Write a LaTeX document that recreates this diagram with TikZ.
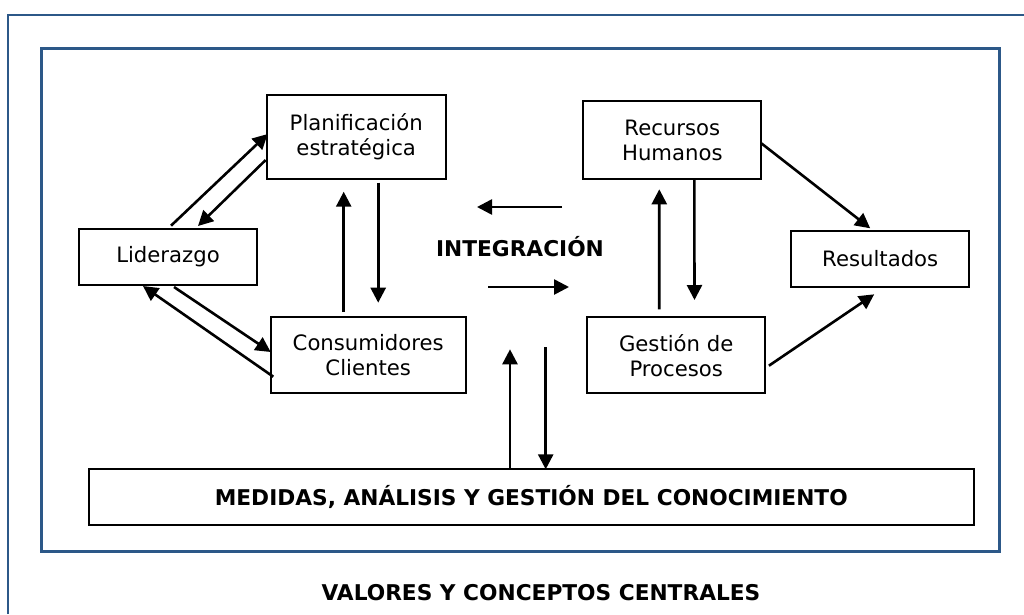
\documentclass[tikz,border=0pt]{standalone}
\usepackage{fontspec}
\setmainfont{DejaVu Sans}
\usetikzlibrary{arrows.meta,calc}
\definecolor{frameblue}{RGB}{44,88,136}
\tikzset{
  box/.style={draw=black, line width=1.8pt, inner sep=0pt, outer sep=0pt, align=center,
    font=\fontsize{21.2}{25}\selectfont},
  boldtxt/.style={inner sep=0pt, font=\fontsize{21.7}{25}\selectfont\bfseries},
  arr/.style={line width=2.6pt, -{Triangle[length=15pt,width=15pt]}},
  frame/.style={draw=frameblue, line width=3pt},
}
\begin{document}
\begin{tikzpicture}[x=1pt,y=-1pt]
\useasboundingbox (0,0) rectangle (1024,614);
% frames
\draw[frame, line width=2.5pt] (8,614) -- (8,15) -- (1025,15);
\draw[frame] (41,48) rectangle (999,551.7);
% boxes
\node[box, minimum width=179pt, minimum height=84pt] (plan) at (356.2,137) {Planificación\\estratégica};
\node[box, minimum width=178pt, minimum height=56pt] (lid) at (168,257) {Liderazgo};
\node[box, minimum width=195pt, minimum height=76pt] (cons) at (368.2,355) {Consumidores\\Clientes};
\node[box, minimum width=178pt, minimum height=78pt] (rec) at (672.3,140) {Recursos\\Humanos};
\node[box, minimum width=178pt, minimum height=56pt] (res) at (880.2,259) {Resultados};
\node[box, minimum width=178pt, minimum height=76pt] (gest) at (676.2,355.3) {Gestión de\\Procesos};
\node[box, minimum width=884.7pt, minimum height=56pt] (med) at (531.3,497.3) {};
\node[boldtxt] (medt) at (531.3,497.3) {MEDIDAS, ANÁLISIS Y GESTIÓN DEL CONOCIMIENTO};
\node[boldtxt] (integ) at (520,247) {INTEGRACIÓN};
\node[boldtxt] (val) at (541,593) {VALORES Y CONCEPTOS CENTRALES};
% arrows left cluster
\draw[arr] ([shift={(3,-3.3)}]lid.north) -- ([shift={(1,-3)}]plan.west);
\draw[arr] ([shift={(-1,23)}]plan.west) -- ([shift={(30,-3)}]lid.north);
\draw[arr] ([shift={(6,2)}]lid.south) -- ([shift={(0,-3)}]cons.west);
\draw[arr] ([shift={(2.6,21.7)}]cons.west) -- ([shift={(-25,1)}]lid.south);
\draw[arr] ([shift={(-24.5,-5)}]cons.north) -- ([shift={(-12.5,12.7)}]plan.south);
\draw[arr] ([shift={(22,3.7)}]plan.south) -- ([shift={(10,-14.3)}]cons.north);
% integration arrows
\draw[arr] ([shift={(42,-40)}]integ.center) -- ([shift={(-43,-40)}]integ.center);
\draw[arr] ([shift={(-32,40)}]integ.center) -- ([shift={(49,40)}]integ.center);
% right cluster
\draw[arr] ([shift={(-17,-8)}]gest.north) -- ([shift={(-13,10.3)}]rec.south);
\draw[arr] ([shift={(22,1)}]rec.south) -- ([shift={(18.3,-17.3)}]gest.north);
\draw[arr] ([shift={(0,3.3)}]rec.east) -- ([shift={(-10,-2.7)}]res.north);
\draw[arr] ([shift={(3.7,10.4)}]gest.east) -- ([shift={(-6,7.3)}]res.south);
% measures arrows
\draw[arr] ([shift={(-21.3,0)}]med.north) -- ([shift={(-21.3,-120)}]med.north);
\draw[arr] ([shift={(14.4,-122)}]med.north) -- ([shift={(14.4,0)}]med.north);
\end{tikzpicture}
\end{document}
